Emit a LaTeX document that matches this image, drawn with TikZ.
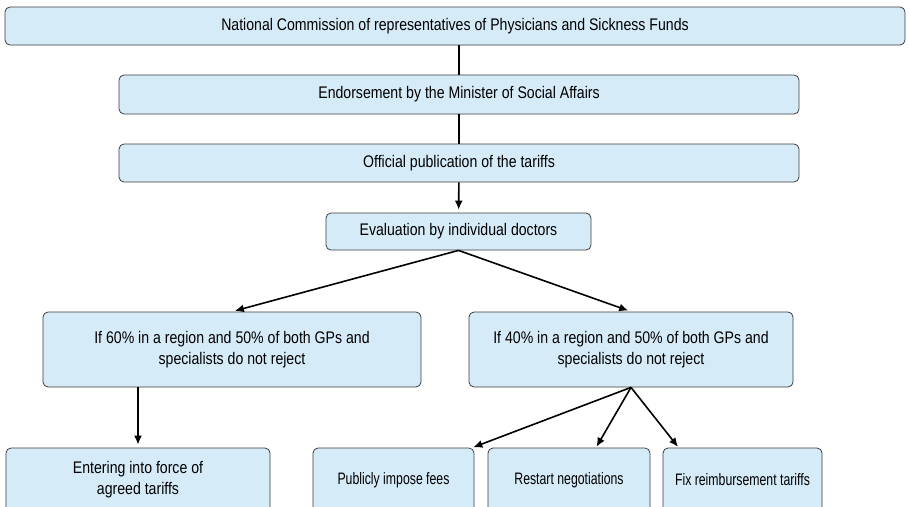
\documentclass[tikz,border=0pt]{standalone}
\usepackage{fontspec}
\setmainfont[FakeStretch=0.84]{Liberation Sans}
\newfontfamily\narrowfont[FakeStretch=0.74]{Liberation Sans}
\usepackage{tikz}
\usetikzlibrary{arrows.meta}
\usetikzlibrary{positioning}
\definecolor{boxfill}{RGB}{214,235,248}
\definecolor{boxline}{RGB}{60,60,60}
\tikzset{stage/.style = {draw = boxline, fill = boxfill, rounded corners = 5pt,
                         line width = 0.8pt, align = center,
                         font = \fontsize{16.8}{21}\selectfont, inner sep = 0pt},
         option/.style = {stage, font = \narrowfont\fontsize{16.6}{21}\selectfont},
         link/.style = {line width = 1.6pt},
         flow/.style = {line width = 1.6pt, -{Latex[length = 9pt, width = 8pt]},
                        shorten >= 3pt}}

\begin{document}
\begin{tikzpicture}[x = 1pt, y = -1pt]
    \useasboundingbox (0, 0) rectangle (909, 506);
    \clip (0, 0) rectangle (909, 506);
    \node [stage, minimum width = 900, minimum height = 38] (commission) at (455, 26)
      {National Commission of representatives of Physicians and Sickness Funds};
    \node [stage, minimum width = 680, minimum height = 39] (minister) at (459, 94.5)
      {Endorsement by the Minister of Social Affairs};
    \node [stage, minimum width = 680, minimum height = 38] (publication) at (459, 163)
      {Official publication of the tariffs};
    \node [stage, minimum width = 265, minimum height = 37] (doctors) at (458.5, 231.5)
      {Evaluation by individual doctors};
    \node [stage, minimum width = 378, minimum height = 75] (sixty) at (232, 349.5)
      {If 60\% in a region and 50\% of both GPs and\\specialists do not reject};
    \node [stage, minimum width = 324, minimum height = 75] (forty) at (631, 349.5)
      {If 40\% in a region and 50\% of both GPs and\\specialists do not reject};
    \node [stage, minimum width = 264, minimum height = 64] (force) at (138, 480)
      {Entering into force of\\agreed tariffs};
    \node [option, minimum width = 161, minimum height = 64] (impose) at (393.5, 480)
      {Publicly impose fees};
    \node [option, minimum width = 162, minimum height = 64] (restart) at (569, 480)
      {Restart negotiations};
    \node [option, minimum width = 159, minimum height = 64] (fix) at (742.5, 480)
      {Fix reimbursement tariffs};
    % chain at the top
    \draw [link] (commission.south -| minister) -- (minister);
    \draw [link] (minister) -- (publication);
    \draw [flow] (publication) -- (doctors);
    % outcome of the evaluation
    \draw [flow] (doctors.south) -- (sixty.north);
    \draw [flow] (doctors.south) -- (forty.north);
    \draw [flow] (sixty.south -| force) -- (force.north);
    \draw [flow, shorten >= 1pt] (forty.south) -- ([xshift = -2pt]impose.north east);
    \draw [flow, shorten >= 1pt] (forty.south) -- ([xshift = 27pt]restart.north);
    \draw [flow, shorten >= 1pt] (forty.south) -- ([xshift = 16pt]fix.north west);
  \end{tikzpicture}
\end{document}
